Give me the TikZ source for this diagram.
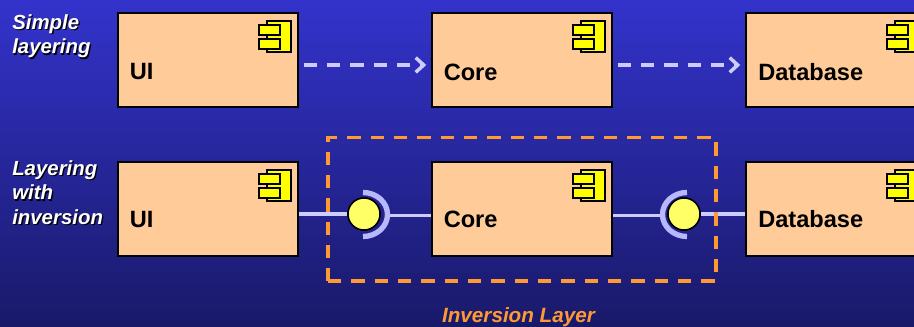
\documentclass[tikz,border=0pt]{standalone}
\usepackage{fontspec}
\setmainfont{Liberation Sans}
\usepackage{xcolor}
\usepackage{tikz}
\usetikzlibrary{arrows.meta}
\definecolor{bgtop}{RGB}{51,51,204}
\definecolor{bgbottom}{RGB}{25,25,105}
\definecolor{boxfill}{RGB}{255,204,153}
\definecolor{iconfill}{RGB}{255,255,0}
\definecolor{ballfill}{RGB}{255,255,102}
\definecolor{wirecolor}{RGB}{204,204,255}
\definecolor{socketcolor}{RGB}{184,184,255}
\definecolor{layercolor}{RGB}{255,153,51}
\newcommand{\shadowed}[1]{\leavevmode\rlap{\kern1pt\raisebox{-1pt}{\textcolor{black}{#1}}}#1}
\tikzset{
  compbox/.style={draw=black,line width=1.1pt,fill=boxfill,rectangle,inner sep=0pt,minimum width=135pt,minimum height=70.5pt},
  complabel/.style={anchor=west,inner sep=0pt,font=\fontsize{17.7}{20}\selectfont\bfseries,text=black},
  sidelabel/.style={anchor=north west,inner sep=0pt,align=left,text=white,font=\fontsize{15.3}{18.5}\selectfont\bfseries\itshape},
  iconpart/.style={draw=black,line width=1pt,fill=iconfill},
  wire/.style={color=wirecolor,line width=2.3pt},
  dashwire/.style={color=wirecolor,line width=2.8pt,dash pattern=on 10pt off 7.5pt,-{Straight Barb[length=6pt,width=11pt,line width=2.6pt]}},
  ball/.style={draw=black,line width=1.1pt,fill=ballfill,circle,inner sep=0pt,minimum size=24pt},
  socket/.style={color=socketcolor,line width=4pt},
  layerbox/.style={draw=layercolor,line width=2.6pt,dash pattern=on 10pt off 7.5pt,rectangle,inner sep=0pt,minimum width=291pt,minimum height=107.5pt},
}
\begin{document}
\begin{tikzpicture}
[x=0.75pt,y=0.75pt,yscale=-1,xscale=1]
\useasboundingbox (0,0) rectangle (914,327);
\shade [top color=bgtop,bottom color=bgbottom] (0,0) rectangle (914,327);

% upper row
\node [compbox] (uitop) at (208,60) {};
\node [compbox] (coretop) at (522,60) {};
\node [compbox] (dbtop) at (836,60) {};
% lower row
\node [compbox] (uibot) at (208,209) {};
\node [compbox] (corebot) at (522,209) {};
\node [compbox] (dbbot) at (836,209) {};

\foreach \bx/\by in {118/13,432/13,746/13,118/162,432/162,746/162} {
  \begin{scope}[shift={(\bx,\by)}]
    \draw [iconpart] (149,8) rectangle (173,39);
    \draw [iconpart] (141,12) rectangle (162,22);
    \draw [iconpart] (141,26) rectangle (162,36);
  \end{scope}
}

\node [complabel] (uitoptext) at (129.5,72) {UI};
\node [complabel] (coretoptext) at (443.5,72) {Core};
\node [complabel] (dbtoptext) at (758,72) {Database};
\node [complabel] (uibottext) at (129.5,219.5) {UI};
\node [complabel] (corebottext) at (443.5,219.5) {Core};
\node [complabel] (dbbottext) at (758,219.5) {Database};

\draw [dashwire] ([xshift=3.75pt,yshift=3.75pt]uitop.east) -- ([xshift=-3.75pt,yshift=3.75pt]coretop.west);
\draw [dashwire] ([xshift=3.75pt,yshift=3.75pt]coretop.east) -- ([xshift=-3.75pt,yshift=3.75pt]dbtop.west);

% inversion joints
\coordinate (socketa) at (388,215.5);
\coordinate (socketb) at (661,215.5);
\node [ball] (balla) at (364,214) {};
\node [ball] (ballb) at (684,214) {};
\draw [wire] ([yshift=3.75pt]uibot.east) -- (balla);
\draw [wire] (socketa) -- (corebot.west |- socketa);
\draw [wire] (corebot.east |- socketb) -- (socketb);
\draw [wire] (ballb) -- ([yshift=3.75pt]dbbot.west);
\draw [socket] (363,192.5) arc (-90:90:24.5 and 22);
\draw [socket] (687,192.5) arc (270:90:24.5 and 22);
\node [ball] at (balla) {};
\node [ball] at (ballb) {};

\node [layerbox] (layerframe) at (522,209.3) {};

\node [sidelabel] (simplelabel) at (12,14) {\shadowed{Simple}\\\shadowed{layering}};
\node [sidelabel] (inversionlabel) at (12,160) {\shadowed{Layering}\\\shadowed{with}\\\shadowed{inversion}};
\node [anchor=center,inner sep=0pt,text=layercolor,font=\fontsize{15.5}{18}\selectfont\bfseries\itshape] (layerlabel) at (518.5,317) {Inversion Layer};
\end{tikzpicture}
\end{document}
